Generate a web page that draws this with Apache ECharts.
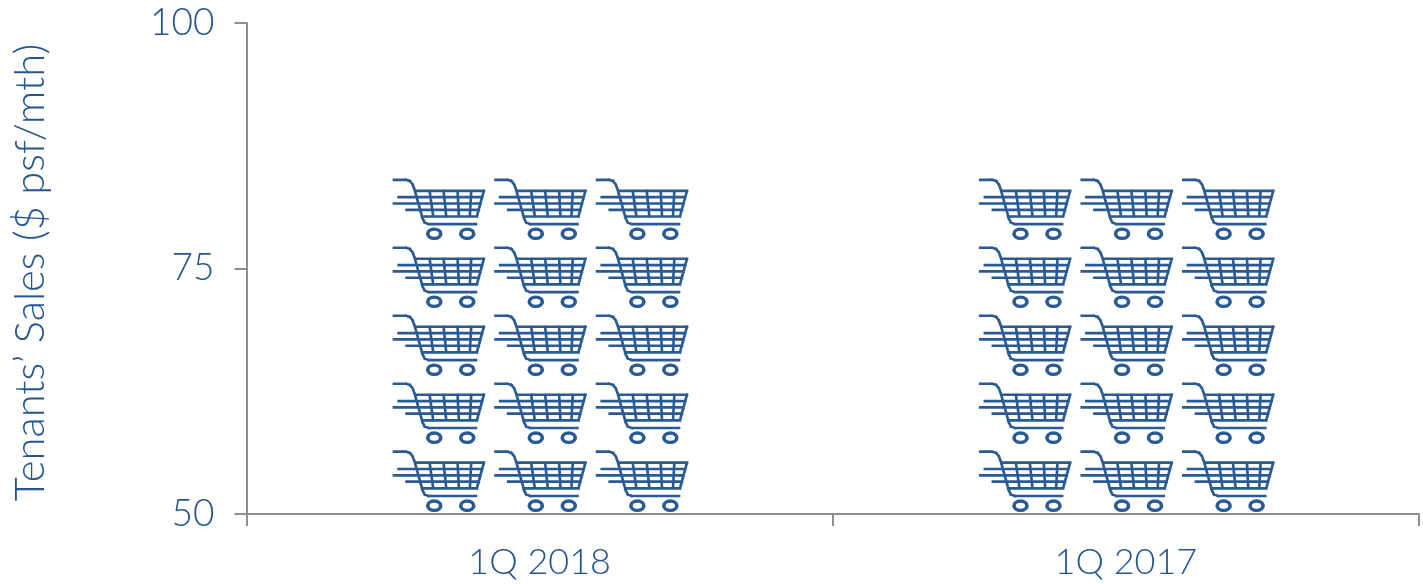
<!DOCTYPE html>
<html>
<head>
<meta charset="utf-8">
<style>html,body{margin:0;padding:0;background:#fff}#chart{width:1423px;height:584px}</style>
<script src="https://cdn.jsdelivr.net/npm/echarts@6/dist/echarts.min.js"></script>
</head>
<body>
<div id="chart"></div>
<script>
var categories = ['1Q 2018', '1Q 2017']
var sales = [84, 84]
var yTicks = [50, 75, 100]
var cartsPerRow = 3
var cartRows = 5

var blue = '#245590'
var cartBlue = '#2a5a94'
var grey = '#8e8e8e'
var labelFont = 'Lato'

// 一段线画成填充的四边形，pictorialBar 的 stroke 会跟着 symbol 非等比缩放
function seg(x1, y1, x2, y2, dx) {
    var t = 4
    var len = Math.sqrt((x2 - x1) * (x2 - x1) + (y2 - y1) * (y2 - y1))
    var ux = (x2 - x1) / len * t, uy = (y2 - y1) / len * t
    var pts = [
        [x1 - ux - uy, y1 - uy + ux],
        [x2 + ux - uy, y2 + uy + ux],
        [x2 + ux + uy, y2 + uy - ux],
        [x1 - ux + uy, y1 - uy - ux]
    ]
    return 'M' + pts.map(function (p) { return (p[0] + dx) + ' ' + p[1] }).join('L') + 'Z'
}

function poly(points, dx) {
    var s = ''
    for (var i = 1; i < points.length; i++) {
        s += seg(points[i - 1][0], points[i - 1][1], points[i][0], points[i][1], dx)
    }
    return s
}

// 轮子是扁的椭圆环
function wheel(cx, dx) {
    var cy = 194
    var x = cx + dx
    var ring = function (rx, ry, sweep) {
        var arc = 'A' + rx + ' ' + ry + ' 0 1 ' + sweep + ' '
        return 'M' + (x - rx) + ' ' + cy + arc + (x + rx) + ' ' + cy + arc + (x - rx) + ' ' + cy + 'Z'
    }
    return ring(25, 19, 1) + ring(14, 9, 0)
}

// 一辆购物车的轮廓
function cartPath(dx) {
    return poly([[26, 32], [62, 32], [74, 36], [82, 46], [88, 62], [112, 148], [118, 160], [130, 165], [272, 165]], dx) +
        poly([[90, 65], [296, 65], [275, 142], [110, 142]], dx) +
        seg(95, 84, 291, 84, dx) +
        seg(100, 103, 286, 103, dx) +
        seg(105, 122, 281, 122, dx) +
        seg(133, 65, 144, 142, dx) +
        seg(175, 65, 183, 142, dx) +
        seg(217, 65, 221, 142, dx) +
        seg(258, 65, 254, 142, dx) +
        seg(40, 84, 88, 84, dx) +
        seg(26, 103, 92, 103, dx) +
        seg(64, 122, 98, 122, dx) +
        wheel(147, dx) + wheel(246, dx)
}

var rowPath = 'path://'
for (var i = 0; i < cartsPerRow; i++) {
    rowPath += cartPath(i * 305)
}

var axisMin = yTicks[0]
var axisMax = yTicks[2]

var chart = echarts.init(document.getElementById('chart'))
chart.setOption({
    animation: false,
    grid: {left: 246.5, right: 4, top: 23, bottom: 70},
    xAxis: {
        type: 'category',
        data: categories,
        axisLine: {onZero: false, lineStyle: {color: grey, width: 2}},
        axisTick: {show: true, length: 12, lineStyle: {color: grey, width: 2}},
        axisLabel: {color: blue, fontFamily: labelFont, fontWeight: 300, fontSize: 36, margin: 30}
    },
    yAxis: [{
        type: 'value',
        min: axisMin,
        max: axisMax,
        interval: yTicks[1] - yTicks[0],
        name: 'Tenants’ Sales ($ psf/mth)',
        nameLocation: 'middle',
        nameRotate: 90,
        nameGap: 195,
        nameTextStyle: {color: blue, fontFamily: labelFont, fontWeight: 300, fontSize: 41.7, padding: [0, 8, 0, 0]},
        splitLine: {show: false},
        axisLine: {show: true, lineStyle: {color: grey, width: 2}},
        axisTick: {show: true, length: 12, lineStyle: {color: grey, width: 2}},
        axisLabel: {color: blue, fontFamily: labelFont, fontWeight: 300, fontSize: 37, margin: 32}
    }, {
        // pictorialBar 总从 0 画起也不能 stack，用一条隐藏的轴把 0 对到可见轴的 min
        type: 'value',
        show: false,
        min: 0,
        max: axisMax - axisMin
    }],
    series: [{
        type: 'pictorialBar',
        yAxisIndex: 1,
        data: sales.map(function (v) { return v - axisMin }),
        symbol: rowPath,
        symbolSize: [296, 62],
        symbolRepeat: cartRows,
        symbolOffset: [1, -2],
        symbolBoundingData: sales[0] - axisMin,
        itemStyle: {color: cartBlue}
    }]
})
</script>
</body>
</html>
